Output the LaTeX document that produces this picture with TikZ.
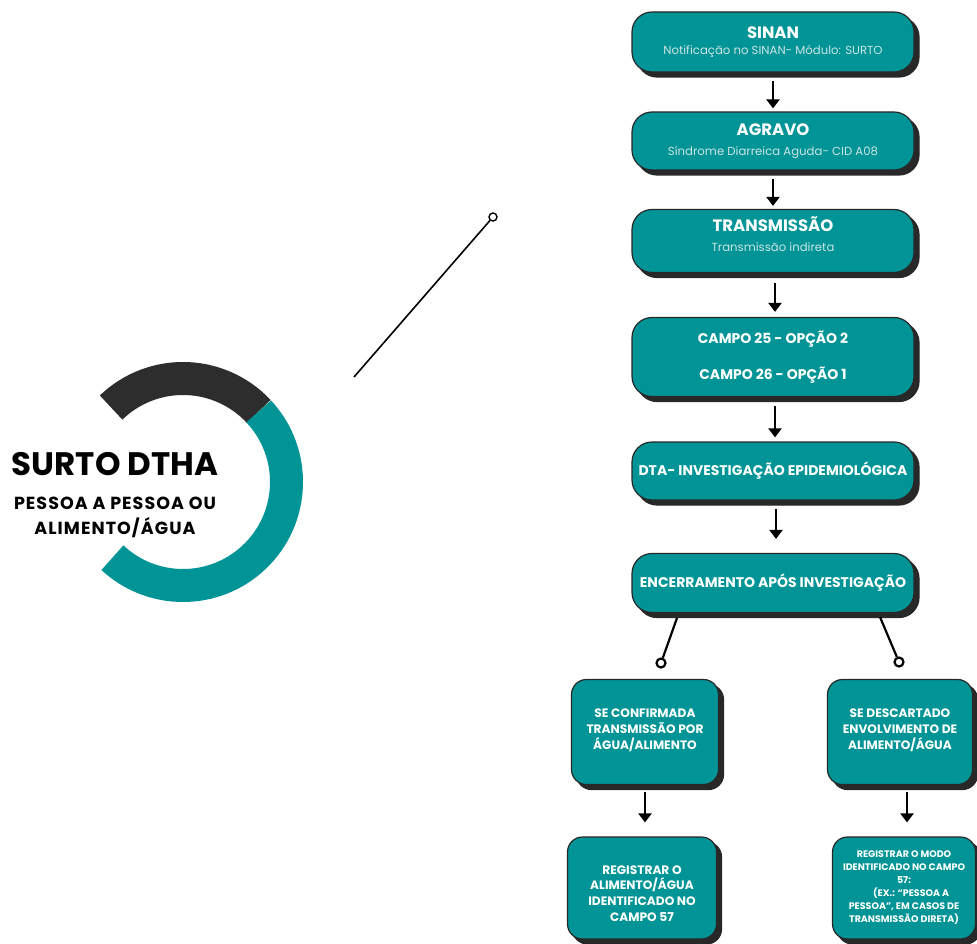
\documentclass[tikz,border=0pt]{standalone}
\usepackage{fontspec}
\setmainfont{Poppins}
\usetikzlibrary{shadows,calc,arrows.meta}
\definecolor{tealbox}{RGB}{0,148,150}
\definecolor{ringdark}{RGB}{45,45,45}
\definecolor{subtxt}{RGB}{205,228,228}
\definecolor{edge}{RGB}{40,40,40}
\begin{document}
\begin{tikzpicture}[x=1pt,y=-1pt,
  box/.style={draw=edge, line width=1.2pt, fill=tealbox, rounded corners=20pt,
    text=white, align=center, inner sep=0pt,
    copy shadow={shadow xshift=5pt, shadow yshift=-5pt, fill=edge, draw=edge}},
  sbox/.style={box, rounded corners=15pt},
  arr/.style={line width=2.6pt, -{Triangle[width=13pt,length=9pt]}},
  ring/.style={line width=33pt},
  knob/.style={circle, draw=black, line width=2.2pt, fill=white, minimum size=9pt, inner sep=0pt}
]
\useasboundingbox (0,0) rectangle (977,944);
\clip (0,0) rectangle (977,944);

% ring
\coordinate (c) at (183,482);
\draw[ring, ringdark] ($(c)+(-134:103.5)$) arc[start angle=-134, end angle=-43, radius=103.5];
\draw[ring, tealbox] ($(c)+(-43:103.5)$) arc[start angle=-43, end angle=133, radius=103.5];
\node[font=\bfseries\fontsize{32.5}{32.5}\selectfont, text=black, inner sep=0pt] (t1) at (115,464) {SURTO DTHA};
\node[font=\bfseries\fontsize{17.5}{25}\selectfont\addfontfeature{LetterSpace=6}, text=black, align=center, inner sep=0pt] (t2) at (115,517) {PESSOA A PESSOA OU\\ALIMENTO/ÁGUA};

% diagonal line
\coordinate (d0) at (354,377);
\node[circle, draw=black, line width=1.4pt, fill=white, minimum size=8pt, inner sep=0pt] (d1) at (493,217) {};
\draw[line width=1.6pt] (d0) -- (d1);

% main boxes
\node[box, minimum width=282pt, minimum height=60pt] (sinan) at (773,42)
  {{\bfseries\fontsize{16.5}{16.5}\selectfont SINAN}\\[4pt]{\color{subtxt}\fontsize{11.7}{11.7}\selectfont Notificação no SINAN- Módulo: SURTO}};
\node[box, minimum width=282pt, minimum height=58pt] (agravo) at (773,141)
  {{\bfseries\fontsize{16.5}{16.5}\selectfont AGRAVO}\\[8pt]{\color{subtxt}\fontsize{11.7}{11.7}\selectfont Síndrome Diarreica Aguda- CID A08}};
\node[box, minimum width=282pt, minimum height=63pt] (transm) at (773,241)
  {{\bfseries\fontsize{16.5}{16.5}\selectfont TRANSMISSÃO}\\[8pt]{\color{subtxt}\fontsize{11.7}{11.7}\selectfont Transmissão indireta}\\[2pt]};
\node[box, minimum width=282pt, minimum height=79pt, font=\bfseries\fontsize{14}{36}\selectfont] (campo) at (773,357)
  {CAMPO 25 - OPÇÃO 2\\CAMPO 26 - OPÇÃO 1};
\node[box, minimum width=282pt, minimum height=58pt, font=\bfseries\fontsize{14}{14}\selectfont] (dta) at (773,471)
  {DTA- INVESTIGAÇÃO EPIDEMIOLÓGICA};
\node[box, minimum width=282pt, minimum height=59pt, font=\bfseries\fontsize{14}{14}\selectfont] (encerr) at (773,583)
  {ENCERRAMENTO APÓS INVESTIGAÇÃO};

% lower boxes
\node[sbox, minimum width=147pt, minimum height=105pt, font=\bfseries\fontsize{12.2}{15.7}\selectfont] (conf) at (645,732)
  {SE CONFIRMADA\\TRANSMISSÃO POR\\ÁGUA/ALIMENTO\\[-10pt]};
\node[sbox, minimum width=145pt, minimum height=105pt, font=\bfseries\fontsize{12.2}{15.7}\selectfont] (desc) at (900,732)
  {SE DESCARTADO\\ENVOLVIMENTO DE\\ALIMENTO/ÁGUA\\[-10pt]};
\node[sbox, minimum width=149pt, minimum height=102pt, font=\bfseries\fontsize{12.2}{15.7}\selectfont] (reg1) at (642,888)
  {\mbox{}\\[4pt]REGISTRAR O\\ALIMENTO/ÁGUA\\IDENTIFICADO NO\\CAMPO 57};
\node[sbox, minimum width=143pt, minimum height=102pt, font=\bfseries\fontsize{9.5}{13}\selectfont] (reg2) at (904,888)
  {REGISTRAR O MODO\\IDENTIFICADO NO CAMPO\\57:\\\hspace*{1.5em}(EX.: “PESSOA A\\PESSOA”, EM CASOS DE\\TRANSMISSÃO DIRETA)};

% arrows
\draw[arr, shorten <=8pt, shorten >=3pt] (sinan.south) -- (agravo.north);
\draw[arr, shorten <=8pt, shorten >=3pt] (agravo.south) -- (transm.north);
\draw[arr, shorten <=10pt, shorten >=5pt] ($(transm.south)+(2,0)$) -- ($(campo.north)+(2,0)$);
\draw[arr, shorten <=9pt, shorten >=4pt] ($(campo.south)+(2,0)$) -- ($(dta.north)+(2,0)$);
\draw[arr, shorten <=8pt, shorten >=14pt] ($(dta.south)+(3,0)$) -- ($(encerr.north)+(3,0)$);
\draw[arr, shorten <=7pt, shorten >=14pt] (conf.south) -- ($(reg1.north)+(3,0)$);
\draw[arr, shorten <=7pt, shorten >=14pt] ($(desc.south)+(7,0)$) -- ($(reg2.north)+(3,0)$);

% branch lines
\coordinate (e1) at (677,618);
\coordinate (e2) at (880,617);
\node[knob] (k1) at (661,663) {};
\node[knob] (k2) at (899,662) {};
\draw[line width=2.2pt] (e1) -- (k1);
\draw[line width=2.2pt] (e2) -- (k2);
\end{tikzpicture}
\end{document}
